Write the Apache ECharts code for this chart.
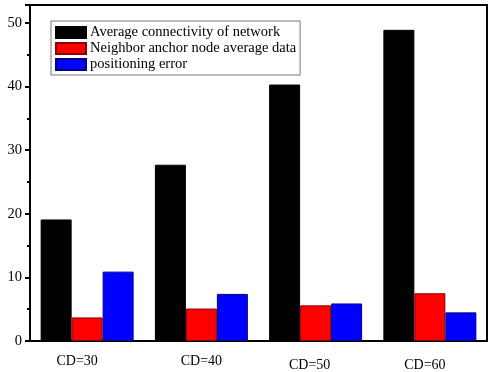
<!DOCTYPE html>
<html>
<head>
<meta charset="utf-8">
<script src="https://cdn.jsdelivr.net/npm/echarts@6/dist/echarts.min.js"></script>
<style>
  html, body { margin: 0; padding: 0; background: #fff; }
  #chart { width: 490px; height: 372px; }
</style>
</head>
<body>
<div id="chart"></div>
<script>
// data
var categories = ['CD=30', 'CD=40', 'CD=50', 'CD=60'];
var connectivity = [19.1, 27.7, 40.3, 48.9];
var anchorData = [3.7, 5.1, 5.6, 7.5];
var posError = [10.9, 7.4, 5.9, 4.5];
var seriesNames = ['Average connectivity of network', 'Neighbor anchor node average data', 'positioning error'];

var font = '"Liberation Serif", "Times New Roman", serif';

// small per-label nudges, the source labels are not quite centred
var labelStyle = ['a', 'b', 'c', 'd'];

var chart = echarts.init(document.getElementById('chart'), null, { renderer: 'canvas' });

var option = {
  animation: false,
  backgroundColor: '#fff',
  textStyle: { fontFamily: font, color: '#000' },
  grid: {
    left: 30, right: 3, top: 5, bottom: 29,
    show: true, borderColor: '#000', borderWidth: 2, backgroundColor: 'transparent'
  },
  legend: {
    orient: 'vertical',
    left: 51, top: 21,
    padding: [4, 4, 3, 4],
    itemWidth: 30, itemHeight: 11, itemGap: 1,
    borderColor: '#777', borderWidth: 1,
    icon: 'rect',
    selectedMode: false,
    textStyle: { fontFamily: font, fontSize: 14.5, color: '#000', padding: [0, 0, 0, -1] },
    data: seriesNames
  },
  xAxis: [{
    type: 'category',
    data: categories,
    axisLine: { lineStyle: { color: '#000', width: 2 } },
    axisTick: { length: 5, lineStyle: { color: '#000', width: 2 } },
    axisLabel: {
      margin: 13,
      fontFamily: font, fontSize: 14, color: '#000',
      formatter: function (value, index) {
        return '{' + labelStyle[index] + '|' + value + '}';
      },
      rich: {
        a: { fontFamily: font, fontSize: 14, padding: [0, 20, 0, 0] },
        b: { fontFamily: font, fontSize: 14 },
        c: { fontFamily: font, fontSize: 14, padding: [4, 12, 0, 0] },
        d: { fontFamily: font, fontSize: 14, padding: [4, 10, 0, 0] }
      }
    }
  }, {
    // second copy of the category axis only for the ticks under each group
    type: 'category',
    data: categories,
    position: 'bottom',
    axisLine: { show: false },
    axisTick: { alignWithLabel: true, length: 5, lineStyle: { color: '#000', width: 2 } },
    axisLabel: { show: false }
  }],
  yAxis: {
    type: 'value',
    min: 0, max: 52.8, interval: 10,
    splitLine: { show: false },
    axisLine: { show: true, lineStyle: { color: '#000', width: 2 } },
    axisTick: { show: true, length: 5, lineStyle: { color: '#000', width: 2 } },
    minorTick: { show: true, splitNumber: 2, length: 3, lineStyle: { color: '#000', width: 2 } },
    axisLabel: { margin: 8, fontFamily: font, fontSize: 14.5, color: '#000', showMaxLabel: false }
  },
  series: [{
    name: seriesNames[0],
    type: 'bar',
    data: connectivity,
    barGap: '0%',
    barCategoryGap: '18.6%',
    itemStyle: { color: '#000', borderColor: '#000', borderWidth: 1 }
  }, {
    name: seriesNames[1],
    type: 'bar',
    data: anchorData,
    itemStyle: { color: '#ff0000', borderColor: '#8b0000', borderWidth: 1 }
  }, {
    name: seriesNames[2],
    type: 'bar',
    data: posError,
    itemStyle: { color: '#0000ff', borderColor: '#00008b', borderWidth: 1 }
  }]
};

chart.setOption(option);
</script>
</body>
</html>
